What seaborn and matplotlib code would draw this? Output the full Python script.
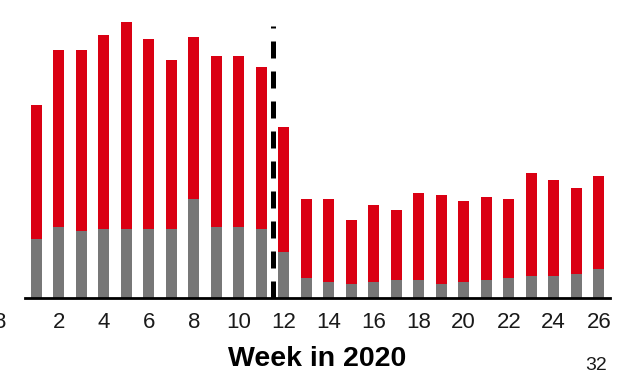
# import modules
import numpy as np
import pandas as pd
import matplotlib
matplotlib.use('Agg')
import matplotlib.pyplot as plt
import seaborn as sns

# weekly values (no y axis shown, arbitrary units)
weeks = list(range(1, 27))
gray_part = [59, 71, 67, 69, 69, 69, 69, 99, 71, 71, 69, 46, 20,
             16, 14, 16, 18, 18, 14, 16, 18, 20, 22, 22, 24, 29]
red_part = [134, 177, 181, 194, 207, 190, 169, 162, 171, 171, 162, 125, 79,
            83, 64, 77, 70, 87, 89, 81, 83, 79, 103, 96, 86, 93]
tick_weeks = list(range(2, 27, 2))
break_week = 11.5

data = pd.DataFrame({'week': weeks, 'gray': gray_part, 'red': red_part})
data['total'] = data['gray'] + data['red']

sns.set_style('white')
plt.rcParams['font.family'] = ['Liberation Sans', 'DejaVu Sans']

fig = plt.figure(figsize=(6.31, 3.73), dpi=100)
ax = fig.add_axes([25 / 631, 1 - 297.7 / 373, 585 / 631, 277.7 / 373])

# stacked bars: red total first, gray overlay on top
sns.barplot(data=data, x='week', y='total', native_scale=True, color='#DA0013',
            saturation=1, width=0.5, ax=ax, edgecolor='none')
sns.barplot(data=data, x='week', y='gray', native_scale=True, color='#777777',
            saturation=1, width=0.5, ax=ax, edgecolor='none')

# dashed separator
ax.axvline(break_week, ymin=0, ymax=0.978, color='black', lw=3.6,
           linestyle=(0, (3.4, 2.6)), zorder=5)

ax.set_xlim(0.5, 26.5)
ax.set_ylim(0, 277.7)
ax.set_xticks(tick_weeks)
ax.set_xticklabels([str(t) for t in tick_weeks], fontsize=16, color='#1a1a1a')
ax.tick_params(axis='x', length=0, pad=10)
ax.set_yticks([])
ax.set_ylabel('')
ax.set_xlabel('Week in 2020', fontsize=20.5, fontweight='bold', color='black',
              labelpad=10)
for s in ['top', 'right', 'left']:
    ax.spines[s].set_visible(False)
ax.spines['bottom'].set_linewidth(2)
ax.spines['bottom'].set_color('black')

# clipped label from the neighbouring panel and page number
fig.text(-0.01, 1 - 322 / 373, '8', fontsize=16, va='center', ha='left', color='#1a1a1a')
fig.text(596 / 631, 1 - 365 / 373, '32', fontsize=14, va='center', ha='center', color='#1a1a1a')

plt.savefig('out.png', dpi=100)
